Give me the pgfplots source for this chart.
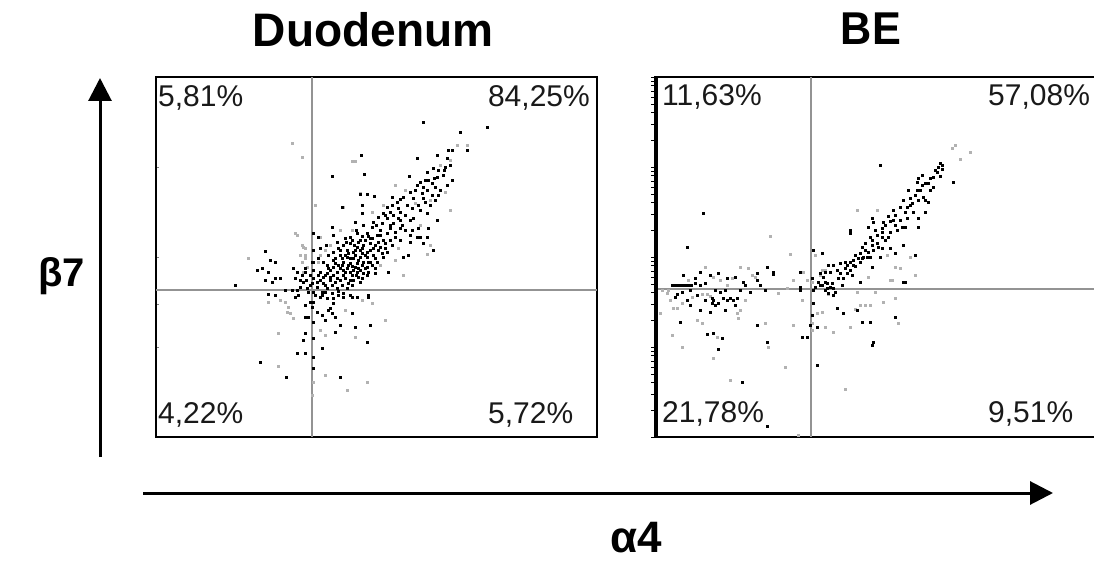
\documentclass[border=0pt]{standalone}
\usepackage{fontspec}
\setmainfont{Liberation Sans}
\usepackage{pgfplots}
\pgfplotsset{compat=1.18}
\usetikzlibrary{arrows.meta}

\pgfplotstableread{
x y
423 122
487 127
460 132
448 150
452 150
467 150
437 155
361 155
417 158
447 158
445 167
433 168
438 170
427 172
443 175
437 177
332 176
364 174
409 176
425 180
420 182
432 183
447 185
417 185
423 187
435 187
427 190
415 190
410 192
422 193
432 195
438 195
423 198
413 198
403 197
400 199
425 202
360 194
367 194
374 196
392 197
397 202
392 205
387 207
407 205
412 208
390 212
400 212
383 213
393 215
405 215
413 218
378 217
387 218
400 220
373 222
382 223
393 223
410 220
372 227
363 225
355 222
380 230
390 228
400 228
387 233
377 235
367 233
357 233
350 237
370 238
360 240
383 240
395 237
410 235
420 237
427 237
428 228
437 220
427 213
342 207
362 205
362 213
332 227
313 233
318 237
333 235
337 242
343 245
350 243
357 247
363 245
370 243
347 250
353 252
360 250
367 252
373 248
380 247
340 255
347 257
353 258
360 257
367 257
373 255
333 260
343 262
350 263
357 263
363 262
370 262
327 265
333 267
340 268
347 268
353 270
360 270
320 272
327 273
333 275
343 275
352 275
358 277
367 275
313 278
320 280
330 280
340 280
350 280
303 282
310 285
317 287
327 288
337 288
347 288
388 272
387 252
383 257
377 262
375 268
367 267
433 250
410 242
417 237
423 243
403 257
408 255
338 248
345 238
352 240
358 242
365 240
372 238
378 242
385 243
342 258
348 253
355 255
362 253
368 262
375 258
382 253
335 263
342 265
348 265
355 267
362 265
368 272
375 273
330 270
337 272
343 270
350 272
357 272
363 273
323 277
330 277
337 278
345 278
353 280
360 282
317 282
323 283
332 285
342 285
352 285
307 288
313 292
322 292
332 293
343 293
368 297
352 297
333 298
320 297
313 302
235 285
265 251
257 270
262 268
268 272
275 262
270 260
275 278
280 278
272 282
265 280
293 268
297 272
302 275
305 272
295 278
300 280
305 268
313 250
313 262
313 270
310 275
285 290
292 290
297 290
275 295
268 294
295 297
298 295
305 305
310 302
312 307
305 317
308 317
313 322
313 338
313 357
313 368
322 295
327 298
330 308
333 303
338 295
343 297
350 295
357 297
368 295
317 312
322 315
325 320
332 313
335 317
328 310
352 313
340 325
335 332
305 333
303 340
305 353
297 353
322 348
355 327
370 325
260 362
286 377
340 377
367 342
340 250
345 255
350 258
355 250
358 260
365 255
370 250
346 242
354 245
362 248
335 258
338 265
345 272
352 266
358 268
365 268
372 265
328 268
325 275
335 282
348 283
356 275
362 278
318 275
312 283
306 280
300 287
308 292
315 295
325 285
378 250
385 248
390 240
395 232
402 225
405 230
398 218
390 225
380 235
375 245
368 236
362 236
356 230
418 205
420 210
430 205
435 200
440 190
428 180
434 178
444 170
450 165
452 180
398 208
385 215
376 225
392 245
400 240
412 230
418 228
325 292
338 291
312 262
318 258
323 262
328 255
333 252
326 245
320 248
}\duoDark

\pgfplotstableread{
x y
457 145
467 145
355 161
292 143
302 157
352 161
248 258
297 235
302 245
305 248
300 255
305 258
315 205
343 207
360 193
320 237
295 233
303 247
305 255
302 262
307 267
303 272
285 302
288 307
287 312
290 313
293 318
278 333
355 337
278 366
347 390
325 375
367 382
372 303
325 335
313 382
312 395
427 254
403 275
385 320
268 302
280 300
320 330
345 310
362 300
415 203
405 190
395 185
440 165
450 160
430 200
445 192
450 210
420 225
430 245
395 260
380 265
398 248
352 230
340 230
372 212
383 205
320 255
325 250
330 245
318 262
}\duoLight

\pgfplotstableread{
x y
703 213
687 247
813 250
822 253
880 165
940 163
942 165
938 167
942 169
937 172
940 176
933 177
928 183
953 182
918 178
917 182
922 185
917 190
933 187
923 197
925 200
928 202
918 200
910 198
912 203
913 212
907 207
900 207
925 212
918 218
918 227
902 227
905 227
897 230
882 228
882 232
888 216
890 221
883 222
895 215
893 220
872 218
868 227
873 222
870 237
872 240
877 235
882 237
888 237
850 230
850 233
907 218
915 255
903 245
895 253
890 248
882 248
878 247
872 245
862 247
865 250
860 253
863 257
858 258
867 257
870 257
853 260
850 262
845 262
847 265
853 265
840 263
833 265
828 265
837 270
830 272
825 272
840 273
847 273
852 275
820 273
823 277
827 283
832 283
822 285
833 288
830 287
828 293
833 295
835 292
842 285
860 282
872 267
880 257
903 282
813 290
800 290
813 303
812 315
810 325
843 313
857 310
862 322
870 322
895 317
873 342
872 345
837 308
905 282
672 285
674 285
677 285
679 285
682 285
685 285
688 285
691 285
677 294
682 292
687 300
697 295
712 298
713 300
712 303
715 305
718 303
723 298
727 300
730 298
733 300
737 298
735 305
700 272
710 275
718 273
727 278
735 277
743 282
757 273
757 280
767 267
773 272
773 274
800 272
800 287
812 278
815 287
818 282
825 282
827 288
817 327
802 337
807 337
817 365
767 342
757 325
707 334
713 333
722 338
718 349
680 322
742 382
767 426
683 275
695 278
745 285
845 268
850 270
855 266
860 262
862 258
868 252
873 250
877 243
885 240
890 232
895 225
900 220
905 212
910 205
915 195
920 190
925 183
930 178
935 170
820 285
825 290
838 278
843 278
855 255
865 243
875 230
885 225
893 210
903 200
908 190
930 190
922 175
675 297
690 290
700 285
705 300
715 290
720 292
725 290
740 290
750 292
760 285
765 290
690 305
700 310
710 312
725 310
695 283
705 283
}\beDark

\pgfplotstableread{
x y
955 145
952 148
970 152
960 159
857 210
877 210
910 257
895 267
900 268
892 280
915 275
887 255
868 277
803 272
812 282
815 255
817 313
822 312
825 327
833 332
855 309
860 305
865 305
870 305
850 327
883 302
895 298
898 323
875 292
857 292
890 280
770 236
790 254
668 290
667 293
670 300
673 308
677 308
682 303
692 297
702 294
707 294
710 296
727 285
732 278
740 267
748 268
752 275
755 277
778 293
787 288
793 280
802 300
807 280
820 275
822 270
825 270
828 294
812 323
812 330
793 325
785 367
768 347
765 323
702 323
697 320
672 335
682 347
730 380
798 435
662 290
660 313
705 267
713 277
720 280
737 313
738 318
740 310
745 300
845 389
713 358
717 337
688 280
}\beLight

\pgfplotsset{
  flowpanel/.style={
    scale only axis, anchor=center,
    ymin=77, ymax=437, y dir=reverse,
    xtick=\empty,
    axis line style={line width=1.5pt, black},
    clip=true,
  },
  darkpts/.style={only marks, mark=square*, mark size=1.3pt,
    mark options={fill=black, draw=black, line width=0.1pt}},
  lightpts/.style={only marks, mark=square*, mark size=0.85pt,
    mark options={fill=gray!60, draw=gray!60, line width=0.1pt}},
}

\begin{document}
\begin{tikzpicture}[x=1pt, y=-1pt]
\path[use as bounding box] (0,0) rectangle (1094,561);

% Panel 1: Duodenum
\begin{axis}[flowpanel, at={(376.5,257)}, width=441pt, height=360pt,
  xmin=156, xmax=597,
  ytick={167,257,304.1,347}, ytick pos=left, tick align=inside,
  major tick length=3pt, yticklabels={}, tick style={gray, line width=0.8pt}]
  \draw[gray!85, line width=1.8pt] (axis cs:312,77) -- (axis cs:312,437);
  \draw[gray!85, line width=1.8pt] (axis cs:156,290) -- (axis cs:597,290);
  \addplot[lightpts] table {\duoLight};
  \addplot[darkpts] table {\duoDark};
\end{axis}

% Panel 2: BE
\begin{axis}[flowpanel, at={(876.5,257)}, width=443pt, height=360pt,
  xmin=655, xmax=1098,
  ytick={77,81.1,85.7,90.9,97,104.1,112.8,124.1,139.9,167,171.1,175.7,180.9,187,194.1,202.8,214.1,229.9,257,261.1,265.7,270.9,277,284.1,292.8,304.1,319.9,347,351.1,355.7,360.9,367,374.1,382.8,394.1,409.9,437},
  ytick pos=left, tick align=outside, major tick length=4pt, yticklabels={},
  tick style={black, line width=0.8pt}]
  \draw[gray!85, line width=1.8pt] (axis cs:811,77) -- (axis cs:811,437);
  \draw[gray!85, line width=1.8pt] (axis cs:655,289) -- (axis cs:1098,289);
  \addplot[lightpts] table {\beLight};
  \addplot[darkpts] table {\beDark};
  \draw[line width=5pt, black] (axis cs:655.5,77) -- (axis cs:655.5,437);
\end{axis}

% quadrant percentages
\begin{scope}[every node/.style={inner sep=0pt, text=black!90, font=\fontsize{30}{32}\selectfont}]
\node[anchor=base west] at (158,107) {5,81\%};
\node[anchor=base east] at (590,107) {84,25\%};
\node[anchor=base west] at (158,423) {4,22\%};
\node[anchor=base west] at (488,423) {5,72\%};
\node[anchor=base west] at (662,106) {11,63\%};
\node[anchor=base west] at (988,106) {57,08\%};
\node[anchor=base west] at (662,422) {21,78\%};
\node[anchor=base west] at (988,422) {9,51\%};
\end{scope}

% titles
\node[anchor=base, inner sep=0pt, xscale=0.98, font=\fontsize{47}{50}\selectfont\bfseries] at (373,47) {Duodenum};
\node[anchor=base, inner sep=0pt, xscale=0.94, font=\fontsize{46}{50}\selectfont\bfseries] at (871,45) {BE};

% axis arrows and labels
\draw[line width=3pt, -{Triangle[width=23pt,length=23pt]}] (100,457) -- (100,78);
\draw[line width=3pt, -{Triangle[width=23pt,length=23pt]}] (143,493) -- (1053,493);
\node[anchor=base west, inner sep=0pt, font=\fontsize{40}{42}\selectfont\bfseries] at (38,287) {β7};
\node[anchor=base, inner sep=0pt, font=\fontsize{44}{46}\selectfont\bfseries] at (636,552) {α4};
\end{tikzpicture}
\end{document}
